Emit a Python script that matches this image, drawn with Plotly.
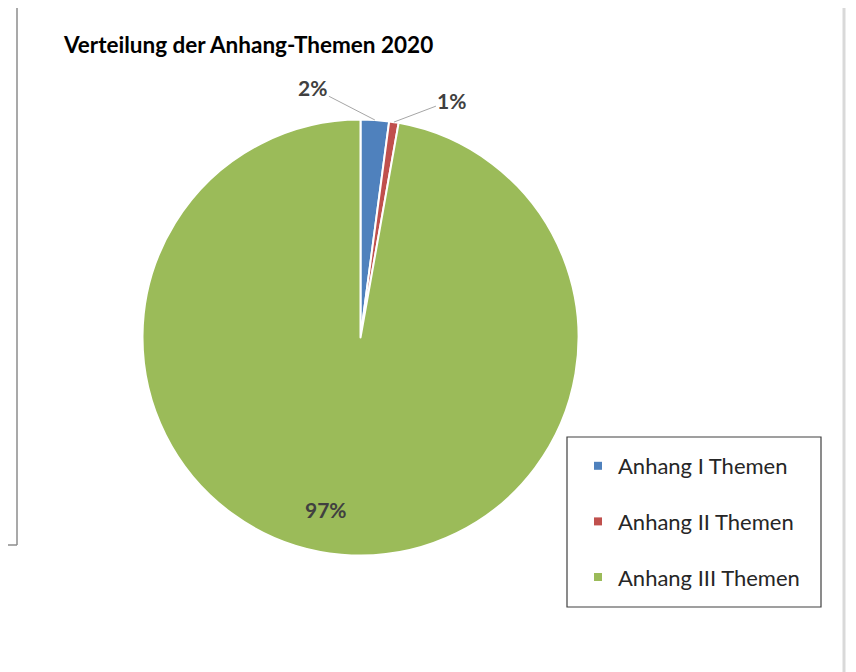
import math
import plotly.graph_objects as go

categories = ["Anhang I Themen", "Anhang II Themen", "Anhang III Themen"]
shares = [2.1, 0.7, 97.2]
colors = ["#4f81bd", "#c0504d", "#9bbb59"]
title_text = "Verteilung der Anhang-Themen 2020"

W, H = 856, 672
OFF = 8  # page body margin


def X(px):
    return (px - OFF) / W


def Y(py):
    return 1 - (py - OFF) / H


cx, cy, R = 360.5, 337.5, 218

fig = go.Figure()
fig.add_trace(go.Pie(
    labels=categories,
    values=shares,
    sort=False,
    direction="clockwise",
    rotation=0,
    marker=dict(colors=colors, line=dict(color="white", width=2)),
    textinfo="none",
    showlegend=False,
    hoverinfo="label+percent",
    domain=dict(x=[X(cx - R), X(cx + R)], y=[Y(cy + R), Y(cy - R)]),
))

# legend entries
for name, col in zip(categories, colors):
    fig.add_trace(go.Scatter(
        x=[None], y=[None], mode="markers", name=name, legendgroup=name,
        marker=dict(symbol="square", size=8, color=col),
    ))

# percentage labels, positioned from slice angles
total = sum(shares)
label_font = dict(family="Lato", size=21, color="#404040", weight="bold")
offsets = [(-62, -32), (58, -22), None]
cum = 0.0
annotations = []
for i, v in enumerate(shares):
    mid = (cum + v / 2) / total
    cum += v
    ang = 2 * math.pi * mid
    txt = f"{round(v / total * 100)}%"
    if offsets[i] is not None:
        px = cx + R * math.sin(ang)
        py = cy - R * math.cos(ang)
        annotations.append(dict(
            x=X(px), y=Y(py), xref="paper", yref="paper",
            text=txt, showarrow=True, arrowhead=0,
            arrowwidth=1, arrowcolor="#a6a6a6", ax=offsets[i][0], ay=offsets[i][1],
            font=label_font,
        ))
    else:
        rr = 0.86 * R
        px = cx + rr * math.sin(ang) - 18
        py = cy - rr * math.cos(ang)
        annotations.append(dict(
            x=X(px), y=Y(py), xref="paper", yref="paper",
            text=txt, showarrow=False, font=label_font,
        ))

annotations.append(dict(
    x=X(61), y=Y(44), xref="paper", yref="paper", xanchor="left", yanchor="middle",
    text=f"<b>{title_text}</b>", showarrow=False,
    font=dict(family="Lato", size=22.5, color="#000000"),
))

shapes = [
    dict(type="line", xref="paper", yref="paper", x0=X(17), x1=X(845), y0=Y(6), y1=Y(6),
         line=dict(color="#d9d9d9", width=3)),
    dict(type="line", xref="paper", yref="paper", x0=X(844), x1=X(844), y0=Y(6), y1=Y(680),
         line=dict(color="#d9d9d9", width=3)),
    dict(type="line", xref="paper", yref="paper", x0=X(17), x1=X(17), y0=Y(0), y1=Y(545),
         line=dict(color="#8c8c8c", width=1.5)),
    dict(type="line", xref="paper", yref="paper", x0=X(0), x1=X(17), y0=Y(545), y1=Y(545),
         line=dict(color="#8c8c8c", width=1.5)),
    dict(type="rect", xref="paper", yref="paper", x0=X(567), x1=X(821), y0=Y(437), y1=Y(607),
         line=dict(color="#404040", width=1.2), fillcolor="rgba(0,0,0,0)"),
]

fig.update_layout(
    width=W, height=H,
    margin=dict(l=0, r=0, t=0, b=0),
    paper_bgcolor="white", plot_bgcolor="white",
    xaxis=dict(visible=False), yaxis=dict(visible=False),
    annotations=annotations,
    shapes=shapes,
    showlegend=True,
    legend=dict(
        x=X(578), y=Y(445), xanchor="left", yanchor="top",
        borderwidth=0, bgcolor="rgba(0,0,0,0)",
        font=dict(family="Lato", size=22, color="#262626"),
        tracegroupgap=24, itemwidth=30,
    ),
)

fig.write_html("out.html")
